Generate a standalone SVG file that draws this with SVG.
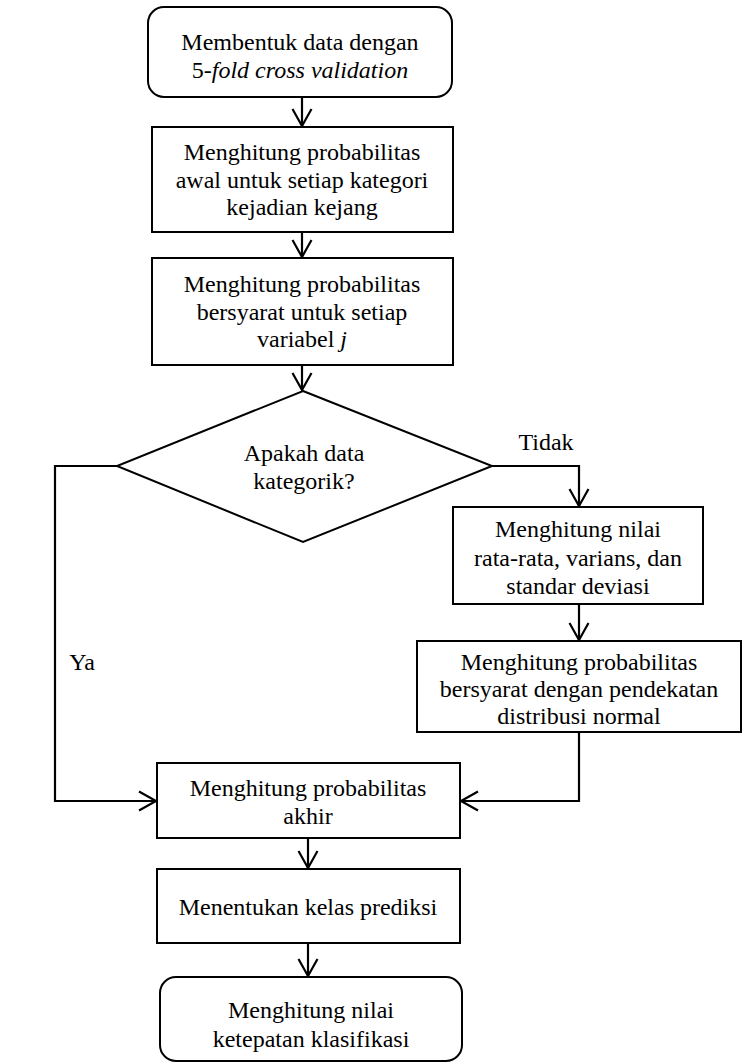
<svg xmlns="http://www.w3.org/2000/svg" width="743" height="1063" viewBox="0 0 743 1063">
<style>
.box{fill:#fff;stroke:#000;stroke-width:2}
.ln{fill:none;stroke:#000;stroke-width:2.2}
text{font-family:"Liberation Serif","Times New Roman",serif;font-size:24px;fill:#000;text-anchor:middle}
.it{font-style:italic}
</style>
<defs>
<marker id="ah" markerUnits="userSpaceOnUse" markerWidth="24" markerHeight="24" viewBox="-20 -12 24 24" refX="0" refY="0" orient="auto">
<path d="M-17,-9.5 L0,0 L-17,9.5" fill="none" stroke="#000" stroke-width="2.2"/>
</marker>
</defs>
<rect width="743" height="1063" fill="#fff"/>
<g id="connectors">
<path class="ln" d="M302,97 V126" marker-end="url(#ah)"/>
<path class="ln" d="M302,232 V257" marker-end="url(#ah)"/>
<path class="ln" d="M302,365 V390" marker-end="url(#ah)"/>
<path class="ln" d="M492,466 H579 V506" marker-end="url(#ah)"/>
<path class="ln" d="M579,604 V640" marker-end="url(#ah)"/>
<path class="ln" d="M579,732 V801 H461" marker-end="url(#ah)"/>
<path class="ln" d="M117,466 H55 V801 H156" marker-end="url(#ah)"/>
<path class="ln" d="M308,838 V868" marker-end="url(#ah)"/>
<path class="ln" d="M308,943 V976" marker-end="url(#ah)"/>
<text x="546" y="450">Tidak</text>
<text x="82" y="670">Ya</text>
</g>
<g id="start">
<rect class="box" x="148" y="7" width="304" height="90" rx="16"/>
<text x="300" y="50">Membentuk data dengan</text>
<text x="300" y="78">5-<tspan class="it">fold cross validation</tspan></text>
</g>
<g id="prior">
<rect class="box" x="152" y="127" width="301" height="105"/>
<text x="302" y="160">Menghitung probabilitas</text>
<text x="302" y="188">awal untuk setiap kategori</text>
<text x="302" y="215">kejadian kejang</text>
</g>
<g id="conditional">
<rect class="box" x="152" y="258" width="301" height="107"/>
<text x="302" y="292">Menghitung probabilitas</text>
<text x="302" y="320">bersyarat untuk setiap</text>
<text x="302" y="347">variabel <tspan class="it">j</tspan></text>
</g>
<g id="decision">
<polygon class="box" points="303,391 492,466 303,542 117,466"/>
<text x="304" y="461">Apakah data</text>
<text x="304" y="489">kategorik?</text>
</g>
<g id="stats">
<rect class="box" x="453" y="507" width="250" height="97"/>
<text x="578" y="537">Menghitung nilai</text>
<text x="578" y="566">rata-rata, varians, dan</text>
<text x="578" y="594">standar deviasi</text>
</g>
<g id="normal">
<rect class="box" x="417" y="641" width="324" height="91"/>
<text x="579" y="670">Menghitung probabilitas</text>
<text x="579" y="697">bersyarat dengan pendekatan</text>
<text x="579" y="724">distribusi normal</text>
</g>
<g id="final">
<rect class="box" x="157" y="763" width="303" height="75"/>
<text x="308" y="796">Menghitung probabilitas</text>
<text x="308" y="824">akhir</text>
</g>
<g id="predict">
<rect class="box" x="157" y="869" width="303" height="74"/>
<text x="308" y="915">Menentukan kelas prediksi</text>
</g>
<g id="end">
<rect class="box" x="160" y="977" width="302" height="84" rx="16"/>
<text x="311" y="1018">Menghitung nilai</text>
<text x="311" y="1047">ketepatan klasifikasi</text>
</g>
</svg>
